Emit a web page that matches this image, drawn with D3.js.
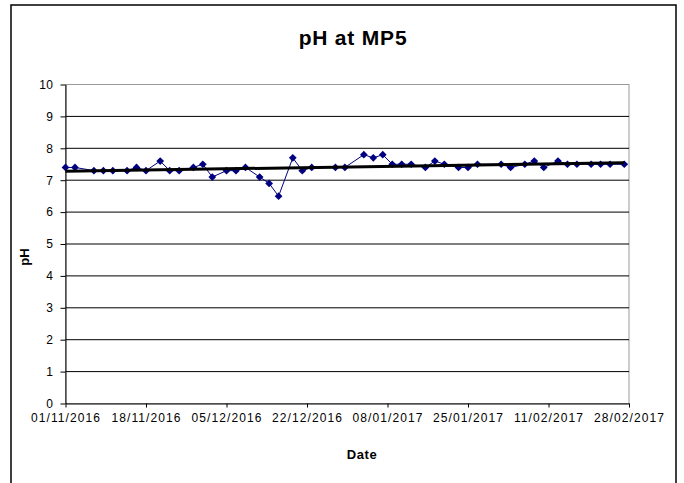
<!DOCTYPE html>
<html lang="en">

<head>
    <meta charset="UTF-8">
    <title>pH at MP5</title>
    <script src="https://d3js.org/d3.v7.min.js"></script>
    <style>
        html,
        body {
            margin: 0;
            padding: 0;
            background: #ffffff;
            overflow: hidden;
        }

        svg {
            display: block;
            font-family: "Liberation Sans", Arial, sans-serif;
        }
    </style>
</head>

<body>
    <svg id="chart" width="684" height="483"></svg>

    <script>
        // sample dates and pH readings
        const sample_dates = [
            "2016-11-01", "2016-11-03", "2016-11-07", "2016-11-09", "2016-11-11", "2016-11-14", "2016-11-16",
            "2016-11-18", "2016-11-21", "2016-11-23", "2016-11-25", "2016-11-28", "2016-11-30",
            "2016-12-02", "2016-12-05", "2016-12-07", "2016-12-09", "2016-12-12", "2016-12-14", "2016-12-16",
            "2016-12-19", "2016-12-21", "2016-12-23", "2016-12-28", "2016-12-30",
            "2017-01-03", "2017-01-05", "2017-01-07", "2017-01-09", "2017-01-11", "2017-01-13", "2017-01-16",
            "2017-01-18", "2017-01-20", "2017-01-23", "2017-01-25", "2017-01-27",
            "2017-02-01", "2017-02-03", "2017-02-06", "2017-02-08", "2017-02-10", "2017-02-13", "2017-02-15",
            "2017-02-17", "2017-02-20", "2017-02-22", "2017-02-24", "2017-02-27"
        ];
        const ph_values = [
            7.4, 7.4, 7.3, 7.3, 7.3, 7.3, 7.4, 7.3, 7.6, 7.3, 7.3, 7.4, 7.5,
            7.1, 7.3, 7.3, 7.4, 7.1, 6.9, 6.5, 7.7, 7.3, 7.4, 7.4, 7.4,
            7.8, 7.7, 7.8, 7.5, 7.5, 7.5, 7.4, 7.6, 7.5, 7.4, 7.4, 7.5,
            7.5, 7.4, 7.5, 7.6, 7.4, 7.6, 7.5, 7.5, 7.5, 7.5, 7.5, 7.5
        ];
        const x_ticks = ["2016-11-01", "2016-11-18", "2016-12-05", "2016-12-22", "2017-01-08", "2017-01-25", "2017-02-11", "2017-02-28"];
        const y_ticks = [0, 1, 2, 3, 4, 5, 6, 7, 8, 9, 10];

        const parse_date = d3.utcParse("%Y-%m-%d");
        const data = sample_dates.map((d, i) => ({ date: parse_date(d), value: ph_values[i] }));

        const svg = d3.select("#chart");
        const plot = { left: 65.5, right: 629, top: 84.5, bottom: 403.5 };

        // outer chart frame
        svg.append("rect")
            .attr("x", 11).attr("y", 5)
            .attr("width", 665).attr("height", 490)
            .attr("fill", "#fff")
            .attr("stroke", "#000")
            .attr("stroke-width", 1.5);

        const x = d3.scaleUtc()
            .domain([parse_date(x_ticks[0]), parse_date(x_ticks[x_ticks.length - 1])])
            .range([plot.left, plot.right]);

        const y = d3.scaleLinear()
            .domain([0, 10])
            .range([plot.bottom, plot.top]);

        // plot area border (grey)
        svg.append("rect")
            .attr("x", plot.left).attr("y", plot.top)
            .attr("width", plot.right - plot.left).attr("height", plot.bottom - plot.top)
            .attr("fill", "none")
            .attr("stroke", "#999")
            .attr("stroke-width", 1);

        // horizontal gridlines
        svg.append("g")
            .selectAll("line")
            .data(y_ticks.filter(t => t > 0 && t < 10))
            .enter().append("line")
            .attr("x1", plot.left).attr("x2", plot.right)
            .attr("y1", d => y(d)).attr("y2", d => y(d))
            .attr("stroke", "#000")
            .attr("stroke-width", 1);

        // y axis
        const y_axis = svg.append("g")
            .attr("transform", `translate(${plot.left},0)`)
            .call(d3.axisLeft(y).tickValues(y_ticks).tickSize(5).tickPadding(7).tickSizeOuter(0));
        y_axis.select(".domain").attr("stroke", "#000");
        y_axis.selectAll("text")
            .attr("font-size", "12px")
            .attr("letter-spacing", "0.5px")
            .attr("fill", "#000")
            .attr("font-family", "Liberation Sans, Arial, sans-serif");

        // x axis
        const x_axis = svg.append("g")
            .attr("transform", `translate(0,${plot.bottom})`)
            .call(d3.axisBottom(x)
                .tickValues(x_ticks.map(parse_date))
                .tickFormat(d3.utcFormat("%d/%m/%Y"))
                .tickSize(4).tickPadding(6).tickSizeOuter(0));
        x_axis.select(".domain").attr("stroke", "#000");
        x_axis.selectAll("text")
            .attr("font-size", "12px")
            .attr("letter-spacing", "1.1px")
            .attr("fill", "#000")
            .attr("font-family", "Liberation Sans, Arial, sans-serif");

        // data series
        const line = d3.line()
            .x(d => x(d.date))
            .y(d => y(d.value));

        svg.append("path")
            .datum(data)
            .attr("fill", "none")
            .attr("stroke", "#000080")
            .attr("stroke-width", 1)
            .attr("d", line);

        svg.append("g")
            .selectAll("path")
            .data(data)
            .enter().append("path")
            .attr("d", d3.symbol(d3.symbolSquare, 30))
            .attr("transform", d => `translate(${x(d.date)},${y(d.value)}) rotate(45)`)
            .attr("fill", "#000080");

        // linear trendline (least squares, like the spreadsheet one)
        const t0 = data[0].date.getTime();
        const xs = data.map(d => (d.date.getTime() - t0) / 86400000);
        const mean_x = d3.mean(xs);
        const mean_y = d3.mean(ph_values);
        const slope = d3.sum(xs, (v, i) => (v - mean_x) * (ph_values[i] - mean_y)) / d3.sum(xs, v => (v - mean_x) ** 2);
        const intercept = mean_y - slope * mean_x;
        const trend_end = xs[xs.length - 1];

        svg.append("line")
            .attr("x1", x(data[0].date))
            .attr("y1", y(intercept))
            .attr("x2", x(data[data.length - 1].date))
            .attr("y2", y(intercept + slope * trend_end))
            .attr("stroke", "#000")
            .attr("stroke-width", 3);

        // titles
        svg.append("text")
            .attr("x", 353).attr("y", 45)
            .attr("text-anchor", "middle")
            .attr("font-size", "21px")
            .attr("font-weight", "bold")
            .attr("letter-spacing", "0.8px")
            .text("pH at MP5");

        svg.append("text")
            .attr("x", 362).attr("y", 459)
            .attr("text-anchor", "middle")
            .attr("font-size", "13px")
            .attr("font-weight", "bold")
            .attr("letter-spacing", "0.6px")
            .text("Date");

        svg.append("text")
            .attr("transform", "translate(29,257) rotate(-90)")
            .attr("text-anchor", "middle")
            .attr("font-size", "13px")
            .attr("font-weight", "bold")
            .text("pH");
    </script>
</body>

</html>
